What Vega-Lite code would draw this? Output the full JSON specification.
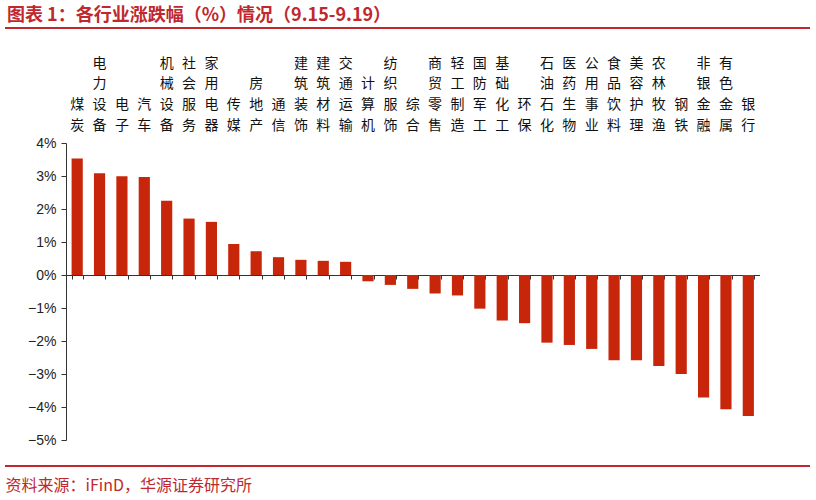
{
  "$schema": "https://vega.github.io/schema/vega-lite/v6.json",
  "width": 805,
  "height": 438,
  "autosize": {"type": "none"},
  "padding": {"left": 5, "top": 28, "right": 6, "bottom": 34},
  "background": "white",
  "config": {"view": {"stroke": null}},
  "title": {
    "text": "图表 1：各行业涨跌幅（%）情况（9.15-9.19）",
    "anchor": "start",
    "frame": "group",
    "orient": "top",
    "offset": 2,
    "dx": 2,
    "font": "Noto Sans CJK SC",
    "fontSize": 18,
    "fontWeight": "bold",
    "color": "#C0282D"
  },
  "datasets": {
    "industries": [
      {"label": "煤炭", "value": 3.53},
      {"label": "电力设备", "value": 3.08},
      {"label": "电子", "value": 2.99},
      {"label": "汽车", "value": 2.97},
      {"label": "机械设备", "value": 2.25},
      {"label": "社会服务", "value": 1.71},
      {"label": "家用电器", "value": 1.61},
      {"label": "传媒", "value": 0.94},
      {"label": "房地产", "value": 0.72},
      {"label": "通信", "value": 0.54},
      {"label": "建筑装饰", "value": 0.46},
      {"label": "建筑材料", "value": 0.43},
      {"label": "交通运输", "value": 0.4},
      {"label": "计算机", "value": -0.19},
      {"label": "纺织服饰", "value": -0.3},
      {"label": "综合", "value": -0.42},
      {"label": "商贸零售", "value": -0.56},
      {"label": "轻工制造", "value": -0.62},
      {"label": "国防军工", "value": -1.02},
      {"label": "基础化工", "value": -1.38},
      {"label": "环保", "value": -1.46},
      {"label": "石油石化", "value": -2.05},
      {"label": "医药生物", "value": -2.12},
      {"label": "公用事业", "value": -2.24},
      {"label": "食品饮料", "value": -2.58},
      {"label": "美容护理", "value": -2.58},
      {"label": "农林牧渔", "value": -2.76},
      {"label": "钢铁", "value": -3.0},
      {"label": "非银金融", "value": -3.71},
      {"label": "有色金属", "value": -4.07},
      {"label": "银行", "value": -4.27}
    ],
    "frameLines": [{"pos": 0}, {"pos": 1}]
  },
  "layer": [
    {
      "data": {"name": "industries"},
      "mark": {"type": "bar", "color": "#C8260A"},
      "encoding": {
        "x": {
          "field": "label",
          "type": "nominal",
          "sort": null,
          "scale": {"range": [61, 754.5], "paddingInner": 0.5, "paddingOuter": 0.25},
          "axis": {
            "orient": "top",
            "offset": -115,
            "title": null,
            "domain": false,
            "ticks": false,
            "tickSize": 0,
            "labelAngle": 0,
            "labelOverlap": false,
            "labelBound": false,
            "labelPadding": 73,
            "labelExpr": "split(pad(datum.label, 4, '\u2800', 'left'), '')",
            "labelFont": "Noto Sans CJK SC",
            "labelFontSize": 14,
            "labelLineHeight": 20.7,
            "labelColor": "#111111"
          }
        },
        "y": {
          "field": "value",
          "type": "quantitative",
          "scale": {"domain": [-5, 4], "range": [412, 115], "nice": false, "zero": false},
          "axis": {
            "orient": "left",
            "offset": -61,
            "title": null,
            "grid": false,
            "values": [-5, -4, -3, -2, -1, 0, 1, 2, 3, 4],
            "labelExpr": "(datum.value < 0 ? '−' : '') + abs(datum.value) + '%'",
            "labelFont": "Liberation Sans",
            "labelFontSize": 14,
            "labelColor": "#222222",
            "labelPadding": 5,
            "tickSize": 5,
            "tickColor": "#333333",
            "domainColor": "#333333"
          }
        }
      }
    },
    {
      "data": {"name": "industries"},
      "mark": {"type": "bar", "opacity": 0},
      "encoding": {
        "x": {
          "field": "label",
          "type": "nominal",
          "sort": null,
          "axis": {
            "orient": "bottom",
            "offset": -191,
            "labels": false,
            "ticks": true,
            "tickBand": "extent",
            "tickSize": 4,
            "tickColor": "#333333",
            "domainColor": "#333333",
            "grid": false,
            "title": "资料来源：iFinD，华源证券研究所",
            "titleX": 0,
            "titleY": 202,
            "titleAlign": "left",
            "titleAnchor": "start",
            "titleBaseline": "top",
            "titleFont": "Noto Sans CJK SC",
            "titleFontSize": 16,
            "titleFontWeight": "normal",
            "titleColor": "#C0282D"
          }
        },
        "y": {
          "field": "value",
          "type": "quantitative",
          "scale": {"domain": [-5, 4], "range": [412, 115], "nice": false, "zero": false},
          "axis": null
        }
      }
    },
    {
      "data": {"name": "frameLines"},
      "mark": {"type": "rule", "color": "#C0282D", "strokeWidth": 2},
      "encoding": {
        "y": {
          "field": "pos",
          "type": "quantitative",
          "scale": {"domain": [0, 1]},
          "axis": null
        }
      }
    }
  ],
  "resolve": {"scale": {"y": "independent"}, "axis": {"x": "independent"}}
}
